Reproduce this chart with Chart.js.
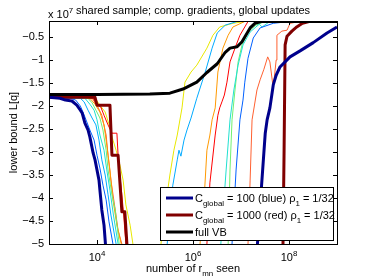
<!DOCTYPE html>
<html>
<head>
<meta charset="utf-8">
<script src="https://cdn.jsdelivr.net/npm/chart.js@4.4.0/dist/chart.umd.min.js"></script>
<style>
  html, body { margin:0; padding:0; background:#fff; }
  canvas { display:block; }
</style>
</head>
<body>
<canvas id="chart" width="373" height="280"></canvas>
<script>
// valeurs (y en unités de 1e7)
const xTicks = [1e4, 1e6, 1e8];
const xTickExp = ['4', '6', '8'];
const yTicks = [-0.5, -1, -1.5, -2, -2.5, -3, -3.5, -4, -4.5, -5];
const yTickLabels = ['\u22120.5', '\u22121', '\u22121.5', '\u22122', '\u22122.5', '\u22123', '\u22123.5', '\u22124', '\u22124.5', '\u22125'];

const fullVbX = [1e3, 1e4, 1.26e5, 3.3e5, 6.2e5, 1.2e6, 1.95e6, 3.2e6, 4.7e6, 5.9e6, 8.3e6, 1.05e7, 1.2e7, 1.55e7, 1.95e7, 2.6e7, 1e9];
const fullVbY = [-1.75, -1.75, -1.74, -1.72, -1.63, -1.48, -1.27, -1.08, -0.83, -0.74, -0.71, -0.6, -0.5, -0.3, -0.2, -0.16, -0.16];

// C_global = 100 (bleu foncé)
const navyDownX = [1e3, 1.7e3, 2.2e3, 3.0e3, 3.8e3, 4.5e3, 4.9e3, 5.6e3, 6.5e3, 7.1e3, 8.3e3, 9.1e3, 1.0e4, 1.1e4, 1.15e4, 1.26e4, 1.4e4, 1.5e4];
const navyDownY = [-1.81, -1.83, -1.87, -1.89, -1.98, -2.09, -2.15, -2.37, -2.52, -2.67, -3.02, -3.17, -3.39, -3.61, -3.83, -4.26, -4.59, -5.0];
const navyUpX = [2.2e7, 3.2e7, 3.5e7, 4.0e7, 4.7e7, 5.4e7, 6.5e7, 1.05e8, 1.7e8, 3.2e8, 6.2e8, 1e9];
const navyUpY = [-5.0, -2.59, -2.30, -2.04, -1.54, -1.33, -1.15, -0.93, -0.80, -0.62, -0.41, -0.28];

// C_global = 1000 (rouge foncé)
const maroonDownX = [1e3, 9.1e3, 1.0e4, 1.86e4, 2.05e4, 2.75e4, 3.3e4, 3.8e4, 4.2e4];
const maroonDownY = [-1.81, -1.81, -1.98, -1.98, -3.07, -3.07, -4.30, -4.30, -5.0];
const maroonUpX = [7.5e7, 7.9e7, 8.3e7, 9.1e7, 1.15e8, 1.45e8, 1.9e8, 2.6e8, 1e9];
const maroonUpY = [-5.0, -2.96, -0.67, -0.48, -0.37, -0.28, -0.2, -0.16, -0.16];

// courbes fines
const blueDownX = [1e3, 2.75e3, 3.6e3, 4.5e3, 5.1e3, 5.9e3, 7.1e3, 8.7e3, 1.0e4, 1.15e4, 1.33e4, 1.55e4, 1.78e4, 2.15e4];
const blueDownY = [-1.81, -1.83, -1.87, -2.0, -2.13, -2.30, -2.52, -2.74, -3.07, -3.35, -3.72, -4.04, -4.52, -5.0];
const blueUpX = [6.5e6, 7.9e6, 9.5e6, 1.1e7, 1.2e7, 1.4e7, 1.8e7, 2.5e7, 4.7e7, 1.05e8];
const blueUpY = [-5.0, -3.39, -2.30, -1.87, -1.48, -0.96, -0.52, -0.30, -0.20, -0.16];

const skyDownX = [1e3, 4.5e3, 5.4e3, 6.5e3, 7.9e3, 9.5e3, 1.1e4, 1.26e4, 1.48e4, 1.7e4, 1.95e4, 2.5e4];
const skyDownY = [-1.81, -1.83, -1.91, -2.09, -2.26, -2.41, -2.74, -3.17, -3.5, -3.93, -4.37, -5.0];
const skyUpX = [2.9e5, 3.3e5, 3.8e5, 4.7e5, 5.1e5, 5.6e5, 6.5e5, 7.5e5, 9.1e5, 1.2e6, 1.8e6, 2.5e6, 3.2e6, 4.7e6, 8.3e6];
const skyUpY = [-5.0, -4.26, -3.72, -3.17, -2.96, -3.09, -2.74, -2.52, -2.26, -1.83, -1.26, -0.74, -0.41, -0.24, -0.16];

const aquaDownX = [1e3, 5.6e3, 7.1e3, 8.7e3, 1.0e4, 1.15e4, 1.4e4, 1.6e4, 1.86e4, 2.2e4, 2.75e4];
const aquaDownY = [-1.81, -1.83, -1.96, -2.09, -2.30, -2.63, -2.96, -3.39, -3.83, -4.37, -5.0];
const aquaUpX = [3.8e6, 4.9e6, 5.9e6, 7.1e6, 8.7e6, 1.1e7, 1.55e7, 2.05e7, 2.4e7, 2.75e7, 4.0e7];
const aquaUpY = [-5.0, -3.39, -2.30, -1.65, -1.11, -0.67, -0.39, -0.28, -0.22, -0.28, -0.16];

const greenDownX = [1e3, 6.5e3, 7.9e3, 9.5e3, 1.15e4, 1.33e4, 1.55e4, 1.7e4, 2.05e4, 2.4e4, 2.9e4];
const greenDownY = [-1.81, -1.83, -1.93, -2.09, -2.26, -2.52, -2.96, -3.39, -3.93, -4.26, -5.0];
const greenUpX = [5.4e6, 5.9e6, 6.5e6, 7.5e6, 8.7e6, 1.05e7, 1.4e7, 2.05e7, 3.2e7];
const greenUpY = [-5.0, -3.39, -2.30, -1.65, -1.04, -0.67, -0.39, -0.24, -0.16];

const orangeDownX = [1e3, 7.1e3, 9.1e3, 1.15e4, 1.4e4, 1.6e4, 1.86e4, 2.15e4, 2.6e4, 3.2e4];
const orangeDownY = [-1.81, -1.83, -1.96, -2.13, -2.41, -2.85, -3.39, -4.04, -4.59, -5.0];
const orangeUpX = [1.4e6, 1.7e6, 1.95e6, 2.25e6, 2.5e6, 2.9e6, 3.3e6, 4.2e6, 5.4e6, 6.8e6, 1.2e7];
const orangeUpY = [-5.0, -4.04, -2.96, -2.63, -2.30, -2.04, -1.26, -0.74, -0.46, -0.28, -0.16];

const tomatoDownX = [1e3, 7.9e3, 1.0e4, 1.26e4, 1.55e4, 1.7e4, 1.95e4, 2.4e4, 2.75e4, 3.3e4];
const tomatoDownY = [-1.81, -1.83, -1.98, -2.20, -2.63, -3.07, -3.61, -4.26, -4.70, -5.0];
const tomatoUpX = [1.4e7, 1.55e7, 1.7e7, 2.15e7, 2.5e7, 3.0e7, 3.6e7, 4.0e7, 4.7e7, 5.4e7, 5.6e7, 7.1e7, 9.1e7, 1.05e8, 1.7e8];
const tomatoUpY = [-5.0, -3.61, -2.30, -1.65, -1.43, -1.20, -0.93, -1.04, -1.61, -1.0, -0.46, -0.37, -0.35, -0.20, -0.16];

const redDownX = [1e3, 8.3e3, 9.5e3, 1.2e4, 1.4e4, 1.7e4, 2.05e4, 2.6e4, 2.75e4, 3.0e4, 3.3e4, 3.6e4, 4.0e4];
const redDownY = [-1.81, -1.83, -1.96, -2.02, -2.20, -2.41, -2.59, -2.59, -3.07, -3.5, -3.93, -4.37, -5.0];
const redUpX = [1.95e6, 2.25e6, 2.9e6, 3.3e6, 3.6e6, 4.0e6, 4.5e6, 5.1e6, 5.9e6, 7.5e6, 9.5e6, 1.4e7];
const redUpY = [-5.0, -3.67, -2.63, -2.20, -2.04, -1.91, -1.76, -1.48, -1.04, -0.74, -0.46, -0.16];

const yellowDownX = [1e3, 9.1e3, 1.15e4, 1.48e4, 1.86e4, 2.15e4, 2.5e4, 3.0e4, 3.5e4, 4.0e4, 4.9e4, 5.6e4];
const yellowDownY = [-1.81, -1.83, -1.98, -2.13, -2.46, -2.74, -2.96, -3.28, -3.61, -4.15, -4.59, -5.0];
const yellowUpX = [2.15e5, 2.6e5, 3.3e5, 4.0e5, 4.7e5, 5.9e5, 6.8e5, 9.1e5, 1.2e6, 1.95e6, 2.6e6, 3.6e6, 6.8e6, 1.2e7];
const yellowUpY = [-5.0, -4.26, -3.5, -2.96, -2.63, -2.04, -1.48, -1.26, -1.11, -0.74, -0.46, -0.28, -0.2, -0.16];

const FONT = 'Liberation Sans, Arial, sans-serif';

// construit un dataset : descente puis remontée, coupure au milieu
function makeSeries(label, color, width, downX, downY, upX, upY) {
  const pts = downX.map((x, i) => ({x, y: downY[i]}));
  if (upX) {
    pts.push({x: upX[0], y: null});
    upX.forEach((x, i) => pts.push({x, y: upY[i]}));
  }
  return {label, data: pts, borderColor: color, borderWidth: width, fill: false,
    pointRadius: 0, tension: 0, spanGaps: false, clip: 0, borderJoinStyle: 'round'};
}

// texte avec indices / exposants
function richText(ctx, x, y, parts, size, align) {
  let w = 0;
  parts.forEach(p => {
    ctx.font = (p[1] ? size * 0.72 : size) + 'px ' + FONT;
    w += ctx.measureText(p[0]).width;
  });
  let cx = align === 'center' ? x - w / 2 : x;
  parts.forEach(p => {
    ctx.font = (p[1] ? size * 0.72 : size) + 'px ' + FONT;
    const dy = p[1] === 'sub' ? 4 : p[1] === 'sup' ? -5 : 0;
    ctx.fillText(p[0], cx, y + dy);
    cx += ctx.measureText(p[0]).width;
  });
}

const framePlugin = {
  id: 'frame',
  afterDatasetsDraw(chart) {
    const ctx = chart.ctx;
    const a = chart.chartArea;
    const xs = chart.scales.x, ys = chart.scales.y;
    ctx.save();
    ctx.strokeStyle = '#000';
    ctx.fillStyle = '#000';
    ctx.lineWidth = 1;
    ctx.strokeRect(Math.round(a.left) + 0.5, Math.round(a.top) + 0.5,
      Math.round(a.right - a.left), Math.round(a.bottom - a.top));

    // graduations vers l'intérieur
    ctx.beginPath();
    yTicks.forEach(v => {
      const py = Math.round(ys.getPixelForValue(v)) + 0.5;
      ctx.moveTo(a.left, py); ctx.lineTo(a.left + 4, py);
      ctx.moveTo(a.right, py); ctx.lineTo(a.right - 4, py);
    });
    xTicks.forEach(v => {
      const px = Math.round(xs.getPixelForValue(v)) + 0.5;
      ctx.moveTo(px, a.bottom); ctx.lineTo(px, a.bottom - 4);
      ctx.moveTo(px, a.top); ctx.lineTo(px, a.top + 4);
    });
    ctx.stroke();

    ctx.textBaseline = 'middle';
    ctx.textAlign = 'right';
    ctx.font = '11px ' + FONT;
    yTicks.forEach((v, i) => ctx.fillText(yTickLabels[i], a.left - 5, ys.getPixelForValue(v)));

    ctx.textBaseline = 'alphabetic';
    ctx.textAlign = 'left';
    xTicks.forEach((v, i) => {
      richText(ctx, xs.getPixelForValue(v), 261, [['10'], [xTickExp[i], 'sup']], 11, 'center');
    });

    richText(ctx, 48, 18, [['x 10'], ['7', 'sup']], 11);
    richText(ctx, 193, 14, [['shared sample; comp. gradients, global updates']], 11, 'center');
    richText(ctx, (a.left + a.right) / 2, 272, [['number of r'], ['mn', 'sub'], [' seen']], 11, 'center');

    ctx.save();
    ctx.translate(17, (a.top + a.bottom) / 2);
    ctx.rotate(-Math.PI / 2);
    richText(ctx, 0, 0, [['lower bound L[q]']], 11, 'center');
    ctx.restore();

    // légende
    ctx.fillStyle = '#fff';
    ctx.fillRect(160, 187, 174, 53);
    ctx.strokeStyle = '#000';
    ctx.strokeRect(160.5, 187.5, 173, 53);
    const rows = [
      [chart.data.datasets[1], 198, [['C'], ['global', 'sub'], [' = 100 (blue) \u03c1'], ['1', 'sub'], [' = 1/32']]],
      [chart.data.datasets[2], 215, [['C'], ['global', 'sub'], [' = 1000 (red) \u03c1'], ['1', 'sub'], [' = 1/32']]],
      [chart.data.datasets[0], 232, [['full VB']]]
    ];
    rows.forEach(r => {
      ctx.strokeStyle = r[0].borderColor;
      ctx.lineWidth = 3;
      ctx.beginPath();
      ctx.moveTo(166, r[1]); ctx.lineTo(193, r[1]);
      ctx.stroke();
      ctx.fillStyle = '#000';
      richText(ctx, 195, r[1] + 4, r[2], 11);
    });
    ctx.restore();
  }
};

const datasets = [
  makeSeries('full VB', '#000000', 3, fullVbX, fullVbY),
  makeSeries('C_global = 100 (blue)', '#00008c', 3, navyDownX, navyDownY, navyUpX, navyUpY),
  makeSeries('C_global = 1000 (red)', '#800000', 3, maroonDownX, maroonDownY, maroonUpX, maroonUpY),
  makeSeries('blue', '#0060ff', 1, blueDownX, blueDownY, blueUpX, blueUpY),
  makeSeries('sky', '#00aaff', 1, skyDownX, skyDownY, skyUpX, skyUpY),
  makeSeries('aqua', '#20e0d0', 1, aquaDownX, aquaDownY, aquaUpX, aquaUpY),
  makeSeries('green', '#70f070', 1, greenDownX, greenDownY, greenUpX, greenUpY),
  makeSeries('orange', '#ff9900', 1, orangeDownX, orangeDownY, orangeUpX, orangeUpY),
  makeSeries('tomato', '#ff6030', 1, tomatoDownX, tomatoDownY, tomatoUpX, tomatoUpY),
  makeSeries('red', '#ff0000', 1, redDownX, redDownY, redUpX, redUpY),
  makeSeries('yellow', '#e8e800', 1, yellowDownX, yellowDownY, yellowUpX, yellowUpY)
];

new Chart(document.getElementById('chart').getContext('2d'), {
  type: 'line',
  data: {datasets},
  options: {
    responsive: false,
    animation: false,
    layout: {padding: {left: 49, right: 36, top: 21, bottom: 36}},
    plugins: {legend: {display: false}, tooltip: {enabled: false}},
    scales: {
      x: {type: 'logarithmic', min: 1e3, max: 1e9, display: false},
      y: {type: 'linear', min: -5, max: -0.15, display: false}
    }
  },
  plugins: [framePlugin]
});
</script>
</body>
</html>
